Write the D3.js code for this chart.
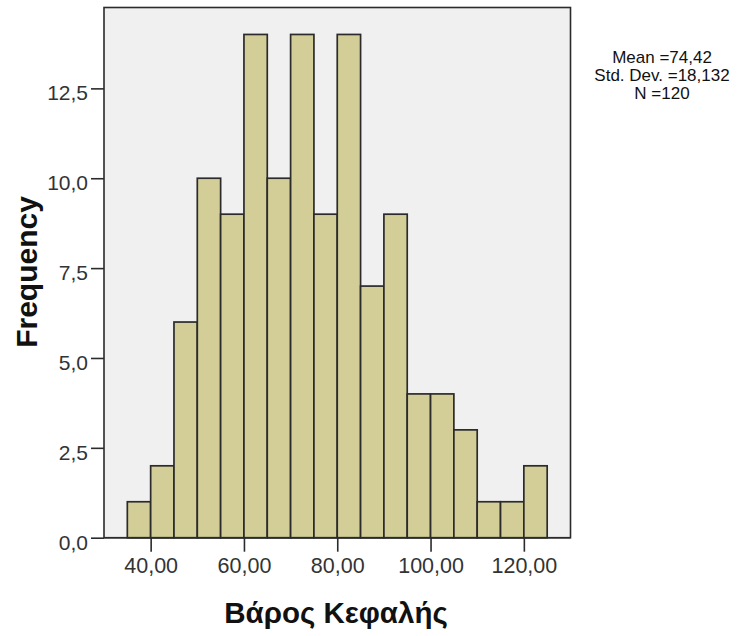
<!DOCTYPE html>
<html>
<head>
<meta charset="utf-8">
<script src="https://cdn.jsdelivr.net/npm/d3@7"></script>
<style>
  html, body { margin: 0; padding: 0; background: #fff; }
  svg { display: block; }
</style>
</head>
<body>
<svg id="chart" width="744" height="636"></svg>
<script>
// ---- data ----
const binStart = [35, 40, 45, 50, 55, 60, 65, 70, 75, 80, 85, 90, 95, 100, 105, 110, 115, 120];
const binEnd   = [40, 45, 50, 55, 60, 65, 70, 75, 80, 85, 90, 95, 100, 105, 110, 115, 120, 125];
const counts   = [1, 2, 6, 10, 9, 14, 10, 14, 9, 14, 7, 9, 4, 4, 3, 1, 1, 2];
const xTicks = [40, 60, 80, 100, 120];
const yTicks = [0, 2.5, 5, 7.5, 10, 12.5];
const statsLines = ["Mean =74,42", "Std. Dev. =18,132", "N =120"];
const xTitle = "Βάρος Κεφαλής";
const yTitle = "Frequency";

const svg = d3.select("#chart");
const L = 104, R = 570.5, T = 7.5, B = 537.7;

const x = d3.scaleLinear().domain([30, 130]).range([L, R]);
const y = d3.scaleLinear().domain([0, 14.75]).range([B, T]);

const fmtComma = (d, digits) => d.toFixed(digits).replace(".", ",");

// plot background
svg.append("rect")
  .attr("x", L).attr("y", T)
  .attr("width", R - L).attr("height", B - T)
  .attr("fill", "#f0f0f0")
  .attr("stroke", "#2b2b2b")
  .attr("stroke-width", 1.6);

// bars
const bars = binStart.map((s, i) => ({ s, e: binEnd[i], c: counts[i] }));
svg.append("g").selectAll("rect")
  .data(bars)
  .join("rect")
  .attr("x", d => x(d.s))
  .attr("y", d => y(d.c))
  .attr("width", d => x(d.e) - x(d.s))
  .attr("height", d => y(0) - y(d.c))
  .attr("fill", "#d3ce97")
  .attr("stroke", "#2b2b2b")
  .attr("stroke-width", 1.7);

// baseline
svg.append("line")
  .attr("x1", L).attr("x2", R)
  .attr("y1", y(0)).attr("y2", y(0))
  .attr("stroke", "#2b2b2b").attr("stroke-width", 1.6);

// y axis
const yAxis = d3.axisLeft(y)
  .tickValues(yTicks)
  .tickFormat(d => fmtComma(d, 1))
  .tickSize(13)
  .tickPadding(3);
const gy = svg.append("g").attr("transform", `translate(${L},0)`).call(yAxis);
gy.select(".domain").remove();
gy.selectAll(".tick line").attr("stroke", "#2b2b2b").attr("stroke-width", 1.6);
gy.selectAll(".tick text")
  .attr("font-family", "'Liberation Sans', Arial, sans-serif")
  .attr("font-size", 21)
  .attr("fill", "#333")
  .attr("dy", "0.55em");

// x axis
const xAxis = d3.axisBottom(x)
  .tickValues(xTicks)
  .tickFormat(d => fmtComma(d, 2))
  .tickSize(14)
  .tickPadding(6);
const gx = svg.append("g").attr("transform", `translate(0,${B})`).call(xAxis);
gx.select(".domain").remove();
gx.selectAll(".tick line").attr("stroke", "#2b2b2b").attr("stroke-width", 1.6);
gx.selectAll(".tick text")
  .attr("font-family", "'Liberation Sans', Arial, sans-serif")
  .attr("font-size", 21.5)
  .attr("fill", "#333");

// axis titles
svg.append("text")
  .attr("x", 336)
  .attr("y", 623)
  .attr("text-anchor", "middle")
  .attr("font-family", "'Liberation Sans', Arial, sans-serif")
  .attr("font-weight", "bold")
  .attr("font-size", 29.5)
  .attr("fill", "#111")
  .text(xTitle);

svg.append("text")
  .attr("transform", `translate(37,272) rotate(-90)`)
  .attr("text-anchor", "middle")
  .attr("font-family", "'Liberation Sans', Arial, sans-serif")
  .attr("font-weight", "bold")
  .attr("font-size", 30)
  .attr("fill", "#111")
  .text(yTitle);

// stats
svg.append("g").selectAll("text")
  .data(statsLines)
  .join("text")
  .attr("x", 662)
  .attr("y", (d, i) => 63 + i * 18)
  .attr("text-anchor", "middle")
  .attr("font-family", "'Liberation Sans', Arial, sans-serif")
  .attr("font-size", 17)
  .attr("fill", "#111")
  .text(d => d);
</script>
</body>
</html>
